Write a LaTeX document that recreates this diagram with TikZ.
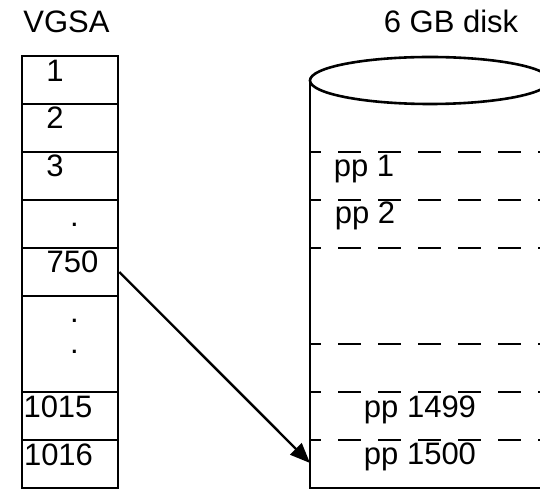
\documentclass[tikz,border=0pt]{standalone}
\usepackage{fontspec}
\setmainfont{Liberation Sans}
\usepackage{tikz}
\usetikzlibrary{arrows.meta}

\begin{document}
\begin{tikzpicture}[
  x = .5pt, y = -.5pt,
  txt/.style = {inner sep = 0pt, anchor = base, font = \fontsize{15.5}{18}\selectfont},
  cell/.style = {draw, line width = 1.3pt, inner sep = 0pt,
      minimum width = 48pt, minimum height = 24pt},
  slot/.style = {line width = 1.3pt, dash pattern = on 11.5pt off 8.5pt, dash phase = 6pt},
  ptr/.style = {line width = 1.2pt, -{Triangle[length = 10pt, width = 8pt]}}
]
  \clip (0, 0) rectangle (540, 491);

  % VGSA table
  \node[txt] (vgsa) at (66.5, 33) {VGSA};
  \foreach \n/\y in {1/80, 2/128, 3/176, 4/224, 750/272, 1015/416, 1016/464}
  \node[cell] (c\n) at (70, \y) {};
  \node[cell, minimum height = 48pt] (cgap) at (70, 344) {};

  \node[txt] (t1) at (55, 82) {1};
  \node[txt] (t2) at (55, 129) {2};
  \node[txt] (t3) at (55, 177) {3};
  \node[txt] (t4) at (74.5, 227) {.};
  \node[txt] (t750) at (72.5, 273) {750};
  \node[txt] (tgap1) at (74.5, 322) {.};
  \node[txt] (tgap2) at (74.5, 353) {.};
  \node[txt] (t1015) at (58, 417) {1015};
  \node[txt] (t1016) at (58.5, 465) {1016};

  % disk
  \node[txt] (disk) at (451, 33) {6 GB disk};
  \draw[line width = 1.3pt] (310, 80.5) -- (310, 488) -- (550, 488) -- (550, 80.5);
  \draw[line width = 1.3pt] (430, 80.5) ellipse [x radius = 120, y radius = 23.5];
  \foreach \y in {152, 200, 248, 344, 392, 440}
  \draw[slot] (310, \y) -- (550, \y);

  \node[txt] (pp1) at (364, 177) {pp 1};
  \node[txt] (pp2) at (365, 224) {pp 2};
  \node[txt] (pp1499) at (420, 417) {pp 1499};
  \node[txt] (pp1500) at (420, 464) {pp 1500};
  \coordinate (slot1500) at (310, 463);

  \draw[ptr] (c750.east) -- (slot1500);
\end{tikzpicture}
\end{document}
